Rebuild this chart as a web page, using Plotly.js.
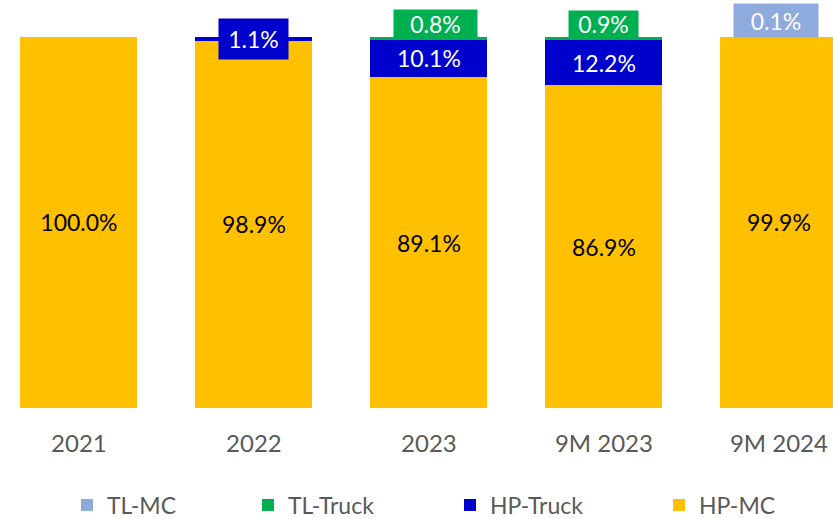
<!DOCTYPE html>
<html>
<head>
<meta charset="utf-8">
<script src="https://cdn.plot.ly/plotly-3.0.1.min.js"></script>
<style>html,body{margin:0;padding:0;background:#fff;}#chart{width:833px;height:519px;}</style>
</head>
<body>
<div id="chart"></div>
<script>
// Data
const categories = ["2021", "2022", "2023", "9M 2023", "9M 2024"];
const hpMC    = [100.0, 98.9, 89.1, 86.9, 99.9];
const hpTruck = [0, 1.1, 10.1, 12.2, 0];
const tlTruck = [0, 0, 0.8, 0.9, 0];
const tlMC    = [0, 0, 0, 0, 0.1];
const seriesNames = ["HP-MC", "HP-Truck", "TL-Truck", "TL-MC"];

const colors = {"HP-MC": "#FFC000", "HP-Truck": "#0000CC", "TL-Truck": "#00B050", "TL-MC": "#8FAADC"};
const textColors = {"HP-MC": "#000000", "HP-Truck": "#FFFFFF", "TL-Truck": "#FFFFFF", "TL-MC": "#FFFFFF"};
const seriesValues = [hpMC, hpTruck, tlTruck, tlMC];
const FONT = "Lato, 'Open Sans', sans-serif";
const INSIDE_MIN = 5;   // values below this get a boxed label above the stack

// Legend entry left positions (px) for each series, one legend per series
const legendX = {"TL-MC": 67, "TL-Truck": 248, "HP-Truck": 450, "HP-MC": 659};

const traces = seriesNames.map((name, i) => ({
  type: "bar",
  name: name,
  legend: i === 0 ? "legend" : "legend" + (i + 1),
  x: categories,
  y: seriesValues[i],
  marker: {color: colors[name], line: {width: 0}},
  text: seriesValues[i].map(v => v >= INSIDE_MIN ? v.toFixed(1) + "%" : ""),
  textposition: "inside",
  insidetextanchor: "middle",
  textangle: 0,
  textfont: {family: FONT, size: 23, color: textColors[name]},
  hoverinfo: "skip"
}));

// Boxed labels for small segments, placed above the stack top
const boxStyle = {
  "HP-Truck|2022":    {yshift: -2, xshift: 0,  w: 69, h: 40},
  "TL-Truck|2023":    {yshift: 13, xshift: 7,  w: 83, h: 27},
  "TL-Truck|9M 2023": {yshift: 13, xshift: 0,  w: 69, h: 26},
  "TL-MC|9M 2024":    {yshift: 16, xshift: -3, w: 84, h: 33}
};
const annotations = [];
seriesNames.forEach((name, i) => {
  seriesValues[i].forEach((v, j) => {
    if (v > 0 && v < INSIDE_MIN) {
      const total = seriesValues.reduce((s, arr) => s + arr[j], 0);
      const st = boxStyle[name + "|" + categories[j]] || {yshift: 14, xshift: 0, w: 70, h: 28};
      annotations.push({
        x: j, y: total, xref: "x", yref: "y",
        text: v.toFixed(1) + "%", showarrow: false,
        yanchor: "middle", xanchor: "center", yshift: st.yshift, xshift: st.xshift,
        width: st.w, height: st.h, bgcolor: colors[name], borderpad: 0,
        font: {family: FONT, size: 23, color: "#FFFFFF"}
      });
    }
  });
});

const layout = {
  width: 833, height: 519,
  margin: {l: 0, r: 0, t: 0, b: 111, pad: 0, autoexpand: false},
  paper_bgcolor: "#FFFFFF", plot_bgcolor: "#FFFFFF",
  barmode: "stack",
  bargap: 0.331,
  showlegend: true,
  xaxis: {
    type: "category", range: [-0.451, 4.309],
    showgrid: false, showline: false, zeroline: false,
    ticks: "outside", ticklen: 14, tickcolor: "rgba(0,0,0,0)",
    tickfont: {family: FONT, size: 24, color: "#595959"},
    fixedrange: true
  },
  yaxis: {range: [0, 109.85], visible: false, fixedrange: true},
  annotations: annotations,
  font: {family: FONT}
};
seriesNames.forEach((name, i) => {
  const key = i === 0 ? "legend" : "legend" + (i + 1);
  layout[key] = {
    orientation: "h",
    x: legendX[name] / 833, xanchor: "left", xref: "container",
    y: 1 - 505 / 519, yanchor: "middle", yref: "container",
    font: {family: FONT, size: 23, color: "#595959"},
    bgcolor: "rgba(0,0,0,0)",
    itemclick: false, itemdoubleclick: false
  };
});

Plotly.newPlot("chart", traces, layout, {displayModeBar: false, staticPlot: true});
</script>
</body>
</html>
